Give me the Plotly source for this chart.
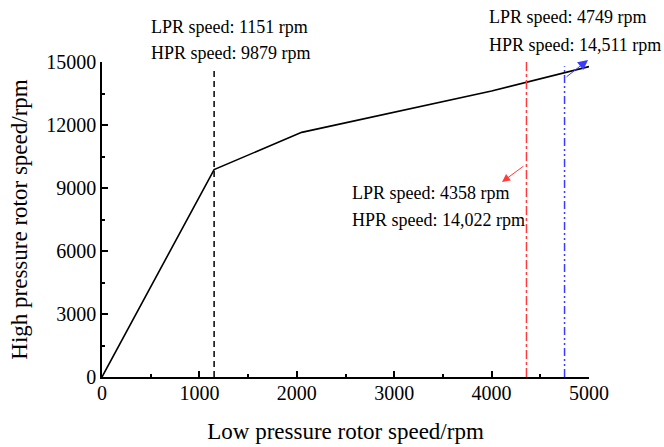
import plotly.graph_objects as go

# Data
lpr_speed = [0, 1151, 2050, 4000, 5000]
hpr_speed = [0, 9879, 11650, 13620, 14780]

marker_lpr = [1151, 4358, 4749]
marker_hpr = [9879, 14022, 14511]
marker_top = [14700, 15000, 14800]
marker_colors = ["black", "#ff3b3b", "#3b3bff"]
marker_dash = ["6px,4px", "dashdot", "8px,3px,2px,3px,2px,3px"]

x_ticks = [0, 1000, 2000, 3000, 4000, 5000]
y_ticks = [0, 3000, 6000, 9000, 12000, 15000]

FONT = "Times New Roman, Liberation Serif, serif"

fig = go.Figure()

fig.add_trace(go.Scatter(x=lpr_speed, y=hpr_speed, mode="lines",
                         line=dict(color="black", width=1.6), showlegend=False))

for xv, top, col, dsh in zip(marker_lpr, marker_top, marker_colors, marker_dash):
    fig.add_trace(go.Scatter(x=[xv, xv], y=[0, top], mode="lines",
                             line=dict(color=col, width=1.5, dash=dsh), showlegend=False))

ann_font = dict(family=FONT, size=18, color="black")
# (x in data units, y in paper units, text)
texts = [
    (482, 1.111, f"LPR speed: {marker_lpr[0]} rpm"),
    (482, 1.029, f"HPR speed: {marker_hpr[0]} rpm"),
    (2546, 0.584, f"LPR speed: {marker_lpr[1]} rpm"),
    (2546, 0.498, f"HPR speed: {marker_hpr[1]:,} rpm"),
    (3950, 1.143, f"LPR speed: {marker_lpr[2]} rpm"),
    (3950, 1.054, f"HPR speed: {marker_hpr[2]:,} rpm"),
]
for x, y, t in texts:
    fig.add_annotation(x=x, y=y, text=t, showarrow=False, xanchor="left", yanchor="middle",
                       font=ann_font, xref="x", yref="paper")

# arrows
fig.add_annotation(x=4107, y=9286, ax=4343, ay=10095, axref="x", ayref="y", xref="x", yref="y",
                   text="", showarrow=True, arrowhead=2, arrowsize=1.6, arrowwidth=1,
                   arrowcolor="#ff3b3b")
fig.add_annotation(x=4990, y=15100, ax=4754, ay=14238, axref="x", ayref="y", xref="x", yref="y",
                   text="", showarrow=True, arrowhead=2, arrowsize=2, arrowwidth=1,
                   arrowcolor="#3b3bff")

axis_common = dict(showline=True, linecolor="black", linewidth=1.5, ticks="inside",
                   ticklen=6, tickwidth=1.5, tickcolor="black", showgrid=False, zeroline=False,
                   mirror=False, automargin=False,
                   tickfont=dict(family=FONT, size=20, color="black"))

fig.update_xaxes(range=[0, 5000], tickvals=x_ticks, ticktext=[str(v) for v in x_ticks],
                 ticklabelstandoff=-3,
                 minor=dict(ticks="inside", ticklen=3, tickwidth=1.5, tickcolor="black", dtick=500, tick0=0),
                 title=dict(text="Low pressure rotor speed/rpm", font=dict(family=FONT, size=23, color="black"),
                            standoff=20),
                 **axis_common)
fig.update_yaxes(range=[0, 15000], tickvals=y_ticks, ticktext=[str(v) for v in y_ticks],
                 minor=dict(ticks="inside", ticklen=3, tickwidth=1.5, tickcolor="black", dtick=1500, tick0=0),
                 title=dict(text="High pressure rotor speed/rpm", font=dict(family=FONT, size=23, color="black"),
                            standoff=12),
                 **axis_common)

fig.update_layout(width=664, height=447, margin=dict(l=102, r=75, t=62, b=70),
                  plot_bgcolor="white", paper_bgcolor="white", showlegend=False)

fig.write_html("out.html")
